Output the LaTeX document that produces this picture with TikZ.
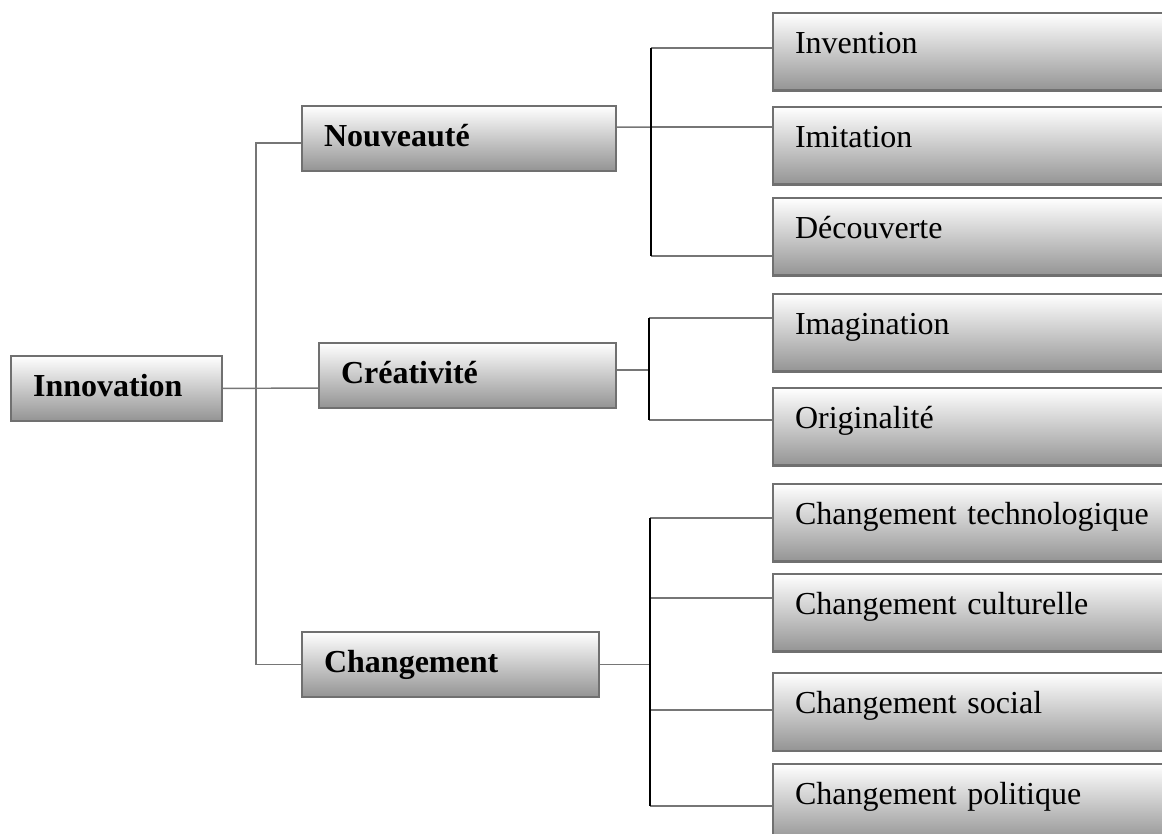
\documentclass[tikz,border=0pt]{standalone}
\usepackage{fontspec}
\setmainfont{Liberation Serif}
\definecolor{boxline}{RGB}{112,112,112}
\definecolor{boxshade}{RGB}{148,148,148}
\definecolor{linkgray}{RGB}{118,118,118}
\tikzset{
  box/.style={draw=boxline, line width=0.8pt, top color=white, bottom color=boxshade,
    anchor=north west, inner xsep=8.25pt, inner ysep=0pt, align=left,
    font=\fontsize{12}{14}\selectfont},
  mainbox/.style={box, text width=#1, text height=15.2pt, text depth=9pt,
    font=\fontsize{12}{14}\selectfont\bfseries},
  leafbox/.style={box, text width=133.5pt, text height=15pt, text depth=14.06pt},
  link/.style={draw=linkgray, line width=0.55pt},
  stem/.style={draw=black, line width=0.55pt}
}
\begin{document}
\begin{tikzpicture}[x=0.375pt, y=-0.375pt]
\path[use as bounding box, clip] (0,0) rectangle (1162,834);
% left column
\node[mainbox=62.6pt] (innov) at (10,355) {Innovation};
\node[mainbox=101.25pt] (nouv) at (301,105) {Nouveauté};
\node[mainbox=94.9pt] (creat) at (318,342) {Créativité};
\node[mainbox=94.9pt] (chang) at (301,631) {Changement};
% right column
\node[leafbox] (inv) at (772,12) {Invention};
\node[leafbox] (imit) at (772,106) {Imitation};
\node[leafbox] (decouv) at (772,197) {Découverte};
\node[leafbox] (imag) at (772,293) {Imagination};
\node[leafbox] (orig) at (772,387) {Originalité};
\node[leafbox] (ctech) at (772,483) {Changement technologique};
\node[leafbox] (ccult) at (772,573) {Changement culturelle};
\node[leafbox] (csoc) at (772,672) {Changement social};
\node[leafbox] (cpol) at (772,763) {Changement politique};
% trunk
\coordinate (trunk) at (256,387);
\draw[link] (innov.east) -- ([yshift=-4.8pt]creat.west);
\draw[link] ([yshift=-1.8pt]nouv.west) -| (trunk) |- (chang.west);
% forks
\coordinate (forkN) at (651,0);
\coordinate (forkC) at (649,0);
\coordinate (forkG) at (650,0);
\foreach \leaf/\dy in {inv/1.4, imit/7.0, decouv/-7.2}{
  \coordinate (\leaf-in) at ([yshift=\dy pt]\leaf.west);
  \draw[link] (\leaf-in) -- (\leaf-in -| forkN);
}
\draw[link] ([yshift=4.2pt]nouv.east) -- (imit-in -| forkN);
\draw[stem] (inv-in -| forkN) -- (decouv-in -| forkN);
\foreach \leaf/\dy in {imag/5.5, orig/2.5}{
  \coordinate (\leaf-in) at ([yshift=\dy pt]\leaf.west);
  \draw[link] (\leaf-in) -- (\leaf-in -| forkC);
}
\coordinate (creat-out) at ([yshift=2pt]creat.east);
\draw[link] (creat-out) -- (creat-out -| forkC);
\draw[stem] (imag-in -| forkC) -- (orig-in -| forkC);
\foreach \leaf/\dy in {ctech/1.8, ccult/5.5, csoc/0.7, cpol/-1.2}{
  \coordinate (\leaf-in) at ([yshift=\dy pt]\leaf.west);
  \draw[link] (\leaf-in) -- (\leaf-in -| forkG);
}
\draw[link] (chang.east) -- (chang.east -| forkG);
\draw[stem] (ctech-in -| forkG) -- (cpol-in -| forkG);
\end{tikzpicture}
\end{document}
